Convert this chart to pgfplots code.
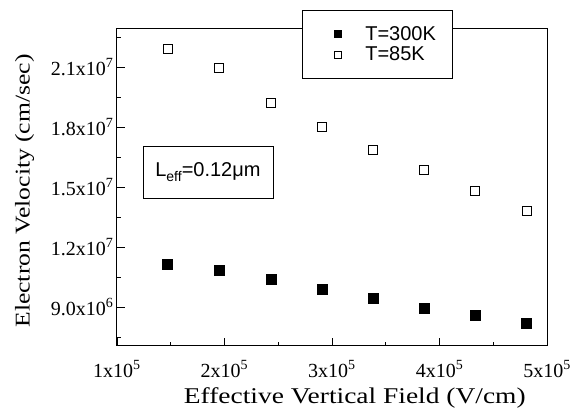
\documentclass[border=0pt]{standalone}
\usepackage{fontspec}
\setmainfont{Liberation Serif}
\newfontfamily\serifwide[FakeStretch=1.22]{Liberation Serif}
\newfontfamily\arial{Liberation Sans}
\usepackage{pgfplots}
\pgfplotsset{compat=1.18}
\begin{document}
\begin{tikzpicture}
\path[use as bounding box] (-117pt,-65pt) rectangle (459pt,346pt);
\begin{axis}[
 at={(0,0)}, anchor=south west, scale only axis, width=430pt, height=317pt,
 xmin=1e5, xmax=5e5, ymin=7.05e6, ymax=2.29e7,
 scaled ticks=false,
 xtick={1e5,2e5,3e5,4e5,5e5},
 xticklabels={1x10\textsuperscript{5},2x10\textsuperscript{5},3x10\textsuperscript{5},4x10\textsuperscript{5},5x10\textsuperscript{5}},
 minor xtick={1.5e5,2.5e5,3.5e5,4.5e5},
 ytick={9e6,1.2e7,1.5e7,1.8e7,2.1e7},
 yticklabels={9.0x10\textsuperscript{6},1.2x10\textsuperscript{7},1.5x10\textsuperscript{7},1.8x10\textsuperscript{7},2.1x10\textsuperscript{7}},
 minor ytick={7.5e6,1.05e7,1.35e7,1.65e7,1.95e7,2.25e7},
 tick align=inside, xtick pos=bottom, ytick pos=left,
 major tick length=8pt, minor tick length=4pt,
 tick style={black, line width=0.8pt},
 axis line style={line width=1pt},
 tick label style={font=\fontsize{20}{24}\selectfont},
 xticklabel style={yshift=-11pt},
 xlabel={Effective Vertical Field (V/cm)},
 ylabel={Electron Velocity (cm/sec)},
 every axis x label/.style={at={(axis description cs:0.553,-0.165)}, anchor=center, font=\serifwide\fontsize{22.5}{26}\selectfont},
 every axis y label/.style={at={(axis description cs:-0.215,0.489)}, rotate=90, anchor=center, font=\serifwide\fontsize{21}{25}\selectfont},
 legend style={at={(0.43,1.06)}, anchor=north west, draw=black, fill=white, line width=0.8pt,
   font=\arial\fontsize{20}{24}\selectfont, inner xsep=14pt, inner ysep=14pt, row sep=1pt,
   /tikz/every odd column/.append style={column sep=0pt}},
 legend cell align=left,
 legend image code/.code={\path[draw=none,fill=none] (0pt,0pt) -- (47pt,0pt); \draw[#1] plot coordinates {(21.5pt,0pt)};},
]
\addplot[forget plot, only marks, mark=square*, mark size=5pt, black] coordinates {
 (1.47e5,1.115e7) (1.95e5,1.085e7) (2.43e5,1.04e7) (2.91e5,9.9e6)
 (3.38e5,9.45e6) (3.86e5,8.95e6) (4.33e5,8.6e6) (4.81e5,8.2e6)};
\addplot[forget plot, only marks, mark=square, mark size=4.5pt, black, mark options={line width=1pt}] coordinates {
 (1.47e5,2.19e7) (1.95e5,2.095e7) (2.43e5,1.92e7) (2.91e5,1.80e7)
 (3.38e5,1.685e7) (3.86e5,1.585e7) (4.33e5,1.48e7) (4.81e5,1.38e7)};
\addlegendimage{only marks, mark=square*, mark size=3.5pt, black}
\addlegendentry{T=300K}
\addlegendimage{only marks, mark=square, mark size=3.5pt, black, mark options={line width=1pt}}
\addlegendentry{T=85K}
\node[draw, line width=0.8pt, font=\arial\fontsize{20}{22}\selectfont, minimum width=130pt, minimum height=52pt, inner sep=2pt]
 at (axis cs:1.846e5,1.575e7) {L\raisebox{-0.5ex}{\fontsize{14}{15}\selectfont eff}=0.12μm};
\end{axis}
\end{tikzpicture}
\end{document}
